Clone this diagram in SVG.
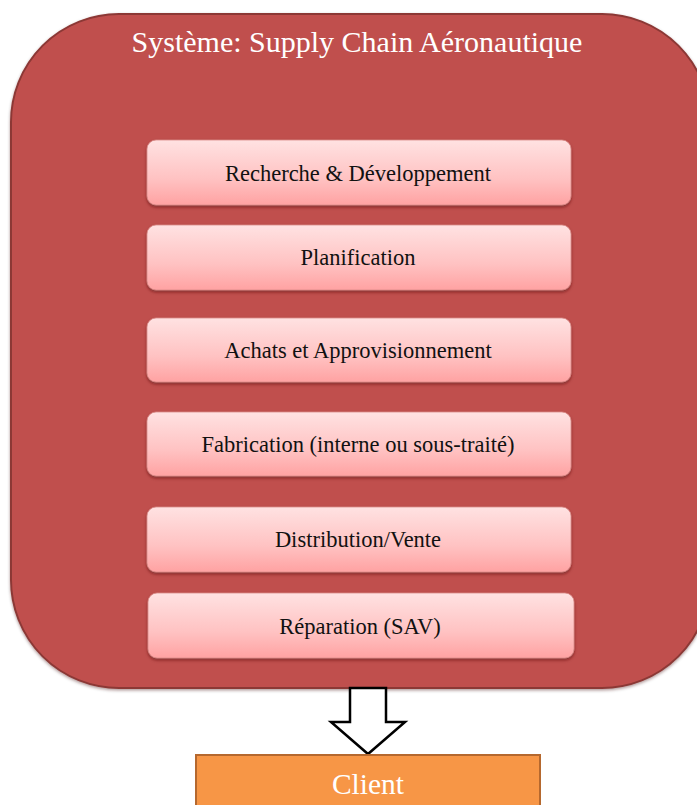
<svg xmlns="http://www.w3.org/2000/svg" width="697" height="805" viewBox="0 0 697 805">
<defs>
<linearGradient id="boxGrad" x1="0" y1="0" x2="0" y2="1">
<stop offset="0" stop-color="#FFE2E2"/>
<stop offset="0.6" stop-color="#FFC2C2"/>
<stop offset="1" stop-color="#FFA2A2"/>
</linearGradient>
<filter id="shadow" x="-5%" y="-10%" width="110%" height="130%">
<feDropShadow dx="0" dy="2" stdDeviation="1.5" flood-color="#5a1515" flood-opacity="0.55"/>
</filter>
<filter id="shadow2" x="-5%" y="-5%" width="110%" height="110%">
<feDropShadow dx="0" dy="1.5" stdDeviation="1.5" flood-color="#3a0a0a" flood-opacity="0.4"/>
</filter>
</defs>
<style>
.step rect { fill: url(#boxGrad); stroke: #D98A88; stroke-width: 0.8; filter: url(#shadow); }
.step text { font-family: "Liberation Serif", "Times New Roman", serif; font-size: 22.5px; fill: #111; text-anchor: middle; }
.title { font-family: "Liberation Serif", "Times New Roman", serif; font-size: 30px; fill: #FFFFFF; text-anchor: middle; }
</style>
<rect width="697" height="805" fill="#FFFFFF"/>
<g id="system">
<rect x="11" y="14" width="699" height="674" rx="108" ry="108" fill="#C0504D" stroke="#8C3836" stroke-width="2" filter="url(#shadow2)"/>
<text class="title" x="357" y="52">Système: Supply Chain Aéronautique</text>
</g>
<g id="rd" class="step">
<rect x="147" y="140" width="424" height="65" rx="9"/>
<text x="358" y="181">Recherche &amp; Développement</text>
</g>
<g id="planification" class="step">
<rect x="147" y="225" width="424" height="65" rx="9"/>
<text x="358" y="265">Planification</text>
</g>
<g id="achats" class="step">
<rect x="147" y="318" width="424" height="64" rx="9"/>
<text x="358" y="358">Achats et Approvisionnement</text>
</g>
<g id="fabrication" class="step">
<rect x="147" y="412" width="424" height="64" rx="9"/>
<text x="358" y="452">Fabrication (interne ou sous-traité)</text>
</g>
<g id="distribution" class="step">
<rect x="147" y="507" width="424" height="65" rx="9"/>
<text x="358" y="547">Distribution/Vente</text>
</g>
<g id="reparation" class="step">
<rect x="148" y="593" width="426" height="65" rx="9"/>
<text x="360" y="634">Réparation (SAV)</text>
</g>
<g id="connectors">
<polygon points="350,688 386,688 386,722 405,722 368,754 331,722 350,722" fill="#FFFFFF" stroke="#000000" stroke-width="2.5" stroke-linejoin="miter"/>
</g>
<g id="client">
<rect x="196" y="755" width="344" height="60" fill="#F79646" stroke="#B5682E" stroke-width="2"/>
<text x="368" y="794" font-family="'Liberation Serif', 'Times New Roman', serif" font-size="29.5" fill="#FFFFFF" text-anchor="middle">Client</text>
</g>
</svg>
